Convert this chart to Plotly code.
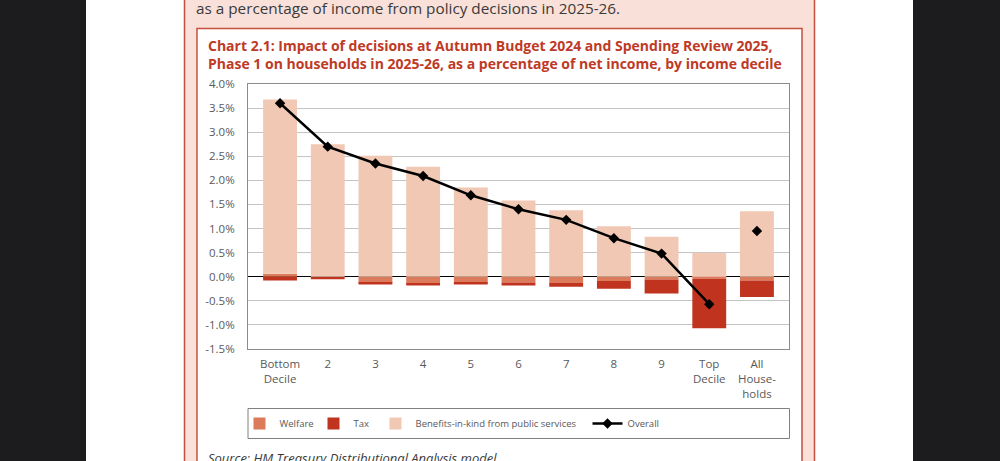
import plotly.graph_objects as go

categories = ["Bottom Decile", "2", "3", "4", "5", "6", "7", "8", "9", "Top Decile", "All Households"]
tick_labels = ["Bottom<br>Decile", "2", "3", "4", "5", "6", "7", "8", "9", "Top<br>Decile", "All<br>House-<br>holds"]
welfare = [0.06, 0.0, -0.13, -0.14, -0.13, -0.12, -0.13, -0.09, -0.06, -0.04, -0.08]
tax = [-0.08, -0.05, -0.03, -0.04, -0.03, -0.06, -0.08, -0.16, -0.29, -1.03, -0.34]
benefits_in_kind = [3.62, 2.75, 2.51, 2.28, 1.85, 1.58, 1.38, 1.05, 0.83, 0.50, 1.36]
overall = [3.60, 2.70, 2.35, 2.09, 1.69, 1.40, 1.18, 0.80, 0.48, -0.57, 0.95]
y_ticks = [-1.5, -1.0, -0.5, 0.0, 0.5, 1.0, 1.5, 2.0, 2.5, 3.0, 3.5, 4.0]
y_tick_labels = ["-1.5%", "-1.0%", "-0.5%", "0.0%", "0.5%", "1.0%", "1.5%", "2.0%", "2.5%",
                 "3.0%", "3.5%", "4.0%"]

W_FIG, H_FIG = 1000, 461
L, R, T, B = 248, 211, 84, 112
PW, PH = W_FIG - L - R, H_FIG - T - B


def px(x):
    return (x - L) / PW


def py(y):
    return 1 - (y - T) / PH


C_WELF = "#DC7A5C"
C_TAX = "#C0341F"
C_BIK = "#F0C8B4"
RED_BORDER = "#C5503F"
GRAY_TXT = "#595959"
FONT = "Open Sans"

fig = go.Figure()
fig.add_trace(go.Bar(x=categories, y=welfare, name="Welfare", marker_color=C_WELF, marker_line_width=0,
                     legend="legend"))
fig.add_trace(go.Bar(x=categories, y=tax, name="Tax", marker_color=C_TAX, marker_line_width=0,
                     legend="legend2"))
fig.add_trace(go.Bar(x=categories, y=benefits_in_kind, name="Benefits-in-kind from public services",
                     marker_color=C_BIK, marker_line_width=0, legend="legend3"))
fig.add_trace(go.Scatter(x=categories[:-1], y=overall[:-1], name="Overall", mode="lines+markers",
                         line=dict(color="black", width=2.5),
                         marker=dict(symbol="diamond", size=8, color="black"), legend="legend4"))
fig.add_trace(go.Scatter(x=categories[-1:], y=overall[-1:], name="Overall", mode="markers",
                         showlegend=False, marker=dict(symbol="diamond", size=8, color="black")))

shapes = [
    dict(type="rect", xref="paper", yref="paper", x0=px(-5), x1=px(86), y0=py(-5), y1=py(470),
         fillcolor="#1C1C1E", line_width=0, layer="below"),
    dict(type="rect", xref="paper", yref="paper", x0=px(913), x1=px(1005), y0=py(-5), y1=py(470),
         fillcolor="#1C1C1E", line_width=0, layer="below"),
    dict(type="rect", xref="paper", yref="paper", x0=px(184.5), x1=px(814.5), y0=py(-10), y1=py(475),
         fillcolor="#F9E0D8", line=dict(color=RED_BORDER, width=1.5), layer="below"),
    dict(type="rect", xref="paper", yref="paper", x0=px(197), x1=px(802), y0=py(28.5), y1=py(475),
         fillcolor="white", line=dict(color=RED_BORDER, width=1.5), layer="below"),
    dict(type="rect", xref="paper", yref="paper", x0=px(248), x1=px(789.5), y0=py(408.5), y1=py(438.5),
         fillcolor="white", line=dict(color="#808080", width=1), layer="below"),
]

annotations = [
    dict(text="as a percentage of income from policy decisions in 2025-26.", xref="paper", yref="paper",
         x=px(194), y=py(8), xanchor="left", yanchor="middle", showarrow=False,
         font=dict(family=FONT, size=15.3, color="#3A3A3A")),
    dict(text="<b>Chart 2.1: Impact of decisions at Autumn Budget 2024 and Spending Review 2025,<br>"
              "Phase 1 on households in 2025-26, as a percentage of net income, by income decile</b>",
         xref="paper", yref="paper", x=px(206), y=py(54), xanchor="left", yanchor="middle",
         align="left", showarrow=False, font=dict(family=FONT, size=14, color="#BE3A26")),
    dict(text="<i>Source: HM Treasury Distributional Analysis model</i>", xref="paper", yref="paper",
         x=px(206), y=py(458), xanchor="left", yanchor="middle", showarrow=False,
         font=dict(family=FONT, size=13, color="#3A3A3A")),
]


def legend_at(center_px):
    return dict(orientation="h", x=px(center_px - 20), y=py(423.5), xanchor="left", yanchor="middle",
                bgcolor="rgba(0,0,0,0)", borderwidth=0, itemwidth=30,
                font=dict(family=FONT, size=9.5, color=GRAY_TXT))


fig.update_layout(
    width=W_FIG, height=H_FIG,
    margin=dict(l=L, r=R, t=T, b=B, pad=0),
    paper_bgcolor="white", plot_bgcolor="white",
    barmode="relative", bargap=0.29,
    font=dict(family=FONT, size=11, color=GRAY_TXT),
    shapes=shapes, annotations=annotations,
    legend=legend_at(259.5),
    legend2=legend_at(333.5),
    legend3=legend_at(395.5),
    legend4=legend_at(607.5),
    xaxis=dict(tickvals=categories, ticktext=tick_labels, showgrid=False, ticks="",
               showline=True, linecolor="#8C8C8C", linewidth=1, mirror=True,
               ticklabelstandoff=4,
               tickfont=dict(family=FONT, size=11.5, color=GRAY_TXT), fixedrange=True),
    yaxis=dict(range=[-1.5, 4.0], tickvals=y_ticks, ticktext=y_tick_labels,
               showgrid=True, gridcolor="#C4C4C4", gridwidth=1,
               zeroline=True, zerolinecolor="#000000", zerolinewidth=1,
               showline=True, linecolor="#8C8C8C", linewidth=1, mirror=True,
               ticks="", ticklabelstandoff=10,
               tickfont=dict(family=FONT, size=11.5, color=GRAY_TXT), fixedrange=True),
    showlegend=True,
)

fig.write_html("out.html", config={"displayModeBar": False},
               post_script="document.body.style.margin='0';document.body.style.overflow='hidden';")
